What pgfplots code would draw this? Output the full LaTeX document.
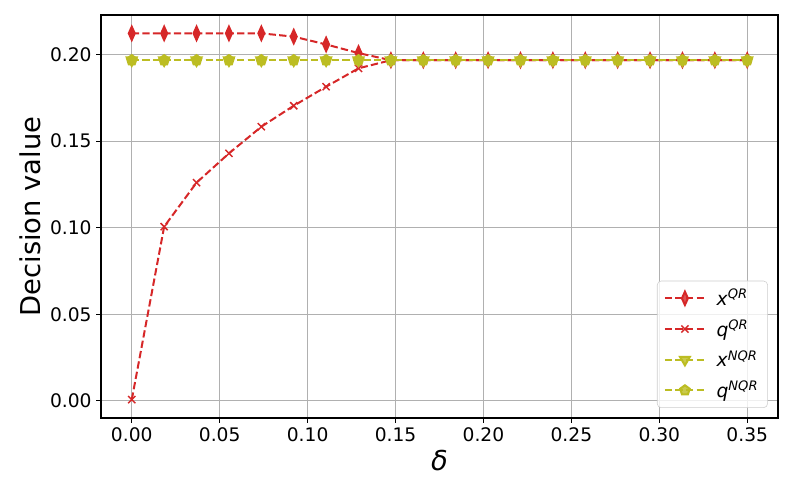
\documentclass[border=0pt]{standalone}
\usepackage{fontspec}
\setmainfont{DejaVu Sans}
\usepackage{pgfplots}
\pgfplotsset{compat=1.18}

\definecolor{qrred}{HTML}{D62728}
\definecolor{nqrolive}{HTML}{BCBD22}

\pgfplotstableread{
d        xqr     qqr     xnqr    qnqr
0.000000 0.2122 0.0007 0.1967 0.1967
0.018421 0.2122 0.1006 0.1967 0.1967
0.036842 0.2122 0.1260 0.1967 0.1967
0.055263 0.2122 0.1429 0.1967 0.1967
0.073684 0.2122 0.1583 0.1967 0.1967
0.092105 0.2103 0.1704 0.1967 0.1967
0.110526 0.2058 0.1814 0.1967 0.1967
0.128947 0.2008 0.1920 0.1967 0.1967
0.147368 0.1967 0.1967 0.1967 0.1967
0.165789 0.1967 0.1967 0.1967 0.1967
0.184211 0.1967 0.1967 0.1967 0.1967
0.202632 0.1967 0.1967 0.1967 0.1967
0.221053 0.1967 0.1967 0.1967 0.1967
0.239474 0.1967 0.1967 0.1967 0.1967
0.257895 0.1967 0.1967 0.1967 0.1967
0.276316 0.1967 0.1967 0.1967 0.1967
0.294737 0.1967 0.1967 0.1967 0.1967
0.313158 0.1967 0.1967 0.1967 0.1967
0.331579 0.1967 0.1967 0.1967 0.1967
0.350000 0.1967 0.1967 0.1967 0.1967
}\datatable

\begin{document}
\begin{tikzpicture}
% page = 793x496 px at 0.75pt per px, axis box starts at (0,0)
\useasboundingbox (-75.75pt,-58.5pt) rectangle (519pt,313.5pt);
\begin{axis}[
    scale only axis,
    width=507.75pt, height=302.25pt,
    xmin=-0.0175, xmax=0.3675,
    ymin=-0.0099, ymax=0.2228,
    xtick={0,0.05,0.10,0.15,0.20,0.25,0.30,0.35},
    ytick={0,0.05,0.10,0.15,0.20},
    xticklabel style={/pgf/number format/.cd, fixed, fixed zerofill, precision=2, assume math mode=true},
    yticklabel style={/pgf/number format/.cd, fixed, fixed zerofill, precision=2, assume math mode=true},
    tick label style={font=\fontsize{14}{16}\selectfont},
    xtick pos=bottom, ytick pos=left,
    tick align=outside,
    major tick length=3.5pt,
    tick style={black, line width=0.8pt},
    axis line style={black, line width=0.8pt},
    grid=major,
    major grid style={color=black!31, line width=0.8pt},
    xlabel={\textit{δ}},
    ylabel={Decision value},
    label style={font=\fontsize{20.5}{24}\selectfont},
    legend style={
        at={(rel axis cs:0.985,0.025)}, anchor=south east,
        draw=black!20, rounded corners=3pt,
        fill=white, fill opacity=0.8, text opacity=1,
        font=\fontsize{14}{16}\selectfont,
        row sep=5pt, inner xsep=5pt, inner ysep=4pt,
        legend cell align=left,
    },
    legend image code/.code={
        \draw[#1, mark repeat=2, mark phase=2]
            plot coordinates {(0pt,0pt) (15pt,0pt) (30pt,0pt)};
        \path (36pt,0pt);
    },
    every axis plot/.append style={line width=1.5pt, dash pattern=on 5.5pt off 2.4pt},
]
\addplot[qrred, mark=diamond*, mark size=5pt,
    mark options={solid, xscale=0.6}] table[x=d, y=xqr] {\datatable};
\addlegendentry{\textit{x}\textsuperscript{\textit{QR}}}
\addplot[qrred, mark=x, mark size=3.8pt,
    mark options={solid, line width=1.1pt}] table[x=d, y=qqr] {\datatable};
\addlegendentry{\textit{q}\textsuperscript{\textit{QR}}}
\addplot[nqrolive, mark=triangle*, mark size=4.3pt,
    mark options={solid, rotate=180}] table[x=d, y=xnqr] {\datatable};
\addlegendentry{\textit{x}\textsuperscript{\textit{NQR}}}
\addplot[nqrolive, mark=pentagon*, mark size=3.8pt,
    mark options={solid}] table[x=d, y=qnqr] {\datatable};
\addlegendentry{\textit{q}\textsuperscript{\textit{NQR}}}
\end{axis}
\end{tikzpicture}
\end{document}
